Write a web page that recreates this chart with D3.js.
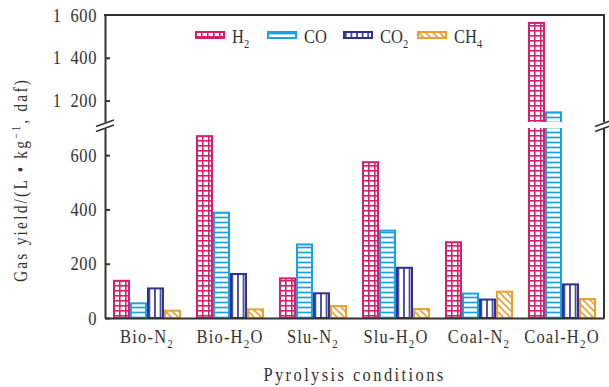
<!DOCTYPE html>
<html><head><meta charset="utf-8">
<script src="https://cdn.jsdelivr.net/npm/d3@7"></script>
<style>
body{margin:0;background:#fff}
svg text{font-family:"Liberation Serif","DejaVu Serif",serif;fill:#333}
</style></head><body>
<svg id="chart" width="609" height="387"></svg>
<script>
// Gas yield by pyrolysis condition, four gases, broken y axis
const categories = ["Bio-N2","Bio-H2O","Slu-N2","Slu-H2O","Coal-N2","Coal-H2O"];
const seriesNames = ["H2","CO","CO2","CH4"];
const h2Values  = [137, 670, 146, 574, 279, 1563];
const coValues  = [54, 388, 271, 322, 90, 1145];
const co2Values = [109, 162, 91, 185, 68, 124];
const ch4Values = [27, 32, 44, 33, 97, 70];
const lowerTicks = [0, 200, 400, 600];
const upperTicks = [1200, 1400, 1600];
const seriesColors = ["#d61f6c", "#1aa1e0", "#2e3192", "#e9a131"];
const yTitle = ["Gas yield/(L \u2022 kg", "\u22121", ", daf)"];
const xTitle = "Pyrolysis conditions";

const allValues = [h2Values, coValues, co2Values, ch4Values];
const rows = categories.map((c, i) => ({cat: c, vals: seriesNames.map((s, j) => ({s, v: allValues[j][i], j}))}));

const svg = d3.select("#chart");
const mLeft = 105, mRight = 604, mTop = 15, mBottom = 318;
const gapTop = 122, gapBot = 128;
const axisColor = "#333";
const TS = 1.15; // vertical stretch of the glyphs

const yLow = d3.scaleLinear().domain([0, 700]).range([mBottom, gapBot]);
const yHigh = d3.scaleLinear().domain([1100, 1600]).range([gapTop, mTop]);
const x0 = d3.scaleBand().domain(categories).range([mLeft, mRight]).paddingInner(0.18).paddingOuter(0.096);
const x1 = d3.scaleBand().domain(seriesNames).range([0, x0.bandwidth()]);

// hatch patterns
const defs = svg.append("defs");
function pat(id, w, h, draw) {
  const p = defs.append("pattern").attr("id", id).attr("patternUnits", "userSpaceOnUse")
    .attr("width", w).attr("height", h);
  p.append("rect").attr("width", w).attr("height", h).attr("fill", "#fff");
  draw(p);
}
pat("p-H2", 6, 5, p => {
  p.append("line").attr("x1", 0.8).attr("x2", 0.8).attr("y1", 0).attr("y2", 5).attr("stroke", seriesColors[0]).attr("stroke-width", 1.6);
  p.append("line").attr("x1", 0).attr("x2", 6).attr("y1", 0.8).attr("y2", 0.8).attr("stroke", seriesColors[0]).attr("stroke-width", 1.6);
});
pat("p-CO", 10, 5, p => {
  p.append("line").attr("x1", 0).attr("x2", 10).attr("y1", 2.5).attr("y2", 2.5).attr("stroke", seriesColors[1]).attr("stroke-width", 1.7);
});
pat("p-CO2", 5.6, 10, p => {
  p.append("line").attr("x1", 2.8).attr("x2", 2.8).attr("y1", 0).attr("y2", 10).attr("stroke", seriesColors[2]).attr("stroke-width", 1.6);
});
pat("p-CH4", 7, 7, p => {
  const c = seriesColors[3];
  p.append("line").attr("x1", 0).attr("y1", 0).attr("x2", 7).attr("y2", 7).attr("stroke", c).attr("stroke-width", 1.6);
  p.append("line").attr("x1", -1).attr("y1", 6).attr("x2", 1).attr("y2", 8).attr("stroke", c).attr("stroke-width", 1.6);
  p.append("line").attr("x1", 6).attr("y1", -1).attr("x2", 8).attr("y2", 1).attr("stroke", c).attr("stroke-width", 1.6);
});

defs.append("clipPath").attr("id", "clipLow").append("rect")
  .attr("x", mLeft).attr("y", yLow.range()[1]).attr("width", mRight - mLeft).attr("height", yLow.range()[0] - yLow.range()[1] + 2);
defs.append("clipPath").attr("id", "clipHigh").append("rect")
  .attr("x", mLeft).attr("y", yHigh.range()[1]).attr("width", mRight - mLeft).attr("height", yHigh.range()[0] - yHigh.range()[1]);

// text with numeric subscripts
function formulaText(g, str, subSize, subDy) {
  const t = g.append("text");
  str.split(/(\d+)/).filter(s => s.length).forEach((part, k, arr) => {
    if (/^\d+$/.test(part)) {
      t.append("tspan").attr("font-size", subSize).attr("dy", subDy).text(part);
    } else {
      const prevSub = k > 0 && /^\d+$/.test(arr[k - 1]);
      t.append("tspan").attr("dy", prevSub ? -subDy : 0).text(part);
    }
  });
  return t;
}

// bars, one layer per axis segment
function barLayer(clipId, scale, base, filterFn) {
  const layer = svg.append("g").attr("clip-path", `url(#${clipId})`);
  const g = layer.selectAll("g").data(rows).join("g")
    .attr("transform", d => `translate(${x0(d.cat)},0)`);
  g.selectAll("rect").data(d => d.vals.filter(filterFn)).join("rect")
    .attr("x", d => x1(d.s) + 1).attr("width", x1.bandwidth() - 2)
    .attr("y", d => scale(d.v)).attr("height", d => scale(base) - scale(d.v))
    .attr("fill", d => `url(#p-${d.s})`).attr("stroke", d => seriesColors[d.j]).attr("stroke-width", 2);
}
barLayer("clipLow", yLow, 0, () => true);
barLayer("clipHigh", yHigh, 1000, e => e.v > yHigh.domain()[0]);

// axes
const fmt = d => d >= 1000 ? `${Math.floor(d / 1000)}\u2002${String(d % 1000).padStart(3, "0")}` : String(d);
function styleAxis(g) {
  g.selectAll("path,line").attr("stroke", axisColor).attr("stroke-width", 2);
  g.selectAll("text").attr("font-size", 16.5).attr("fill", "#333").attr("letter-spacing", 0.6)
    .attr("font-family", '"Liberation Serif", serif').attr("transform", `scale(1,${TS})`);
}
const axLow = svg.append("g").attr("transform", `translate(${mLeft},0)`)
  .call(d3.axisLeft(yLow).tickValues(lowerTicks).tickSizeInner(-5).tickSizeOuter(0).tickPadding(8).tickFormat(fmt));
styleAxis(axLow);
const axHigh = svg.append("g").attr("transform", `translate(${mLeft},0)`)
  .call(d3.axisLeft(yHigh).tickValues(upperTicks).tickSizeInner(-5).tickSizeOuter(0).tickPadding(8).tickFormat(fmt));
styleAxis(axHigh);
axHigh.selectAll(".tick").filter(d => d === 1600).select("line").remove();

const axX = svg.append("g").attr("transform", `translate(0,${mBottom})`)
  .call(d3.axisBottom(x0).tickSize(0).tickFormat(() => ""));
axX.select(".domain").attr("stroke", axisColor).attr("stroke-width", 2);
axX.selectAll(".tick text").remove();
axX.selectAll(".tick").each(function (d) {
  const g = d3.select(this).append("g").attr("transform", `translate(0,25) scale(1,${TS})`);
  formulaText(g, d, 11, 4).attr("text-anchor", "middle").attr("font-size", 16.5).attr("letter-spacing", 1.2);
});

// frame: top and right edges
svg.append("line").attr("x1", mLeft - 1).attr("x2", mRight + 1).attr("y1", mTop).attr("y2", mTop)
  .attr("stroke", axisColor).attr("stroke-width", 2);
svg.append("line").attr("x1", mRight).attr("x2", mRight).attr("y1", mTop).attr("y2", gapTop)
  .attr("stroke", axisColor).attr("stroke-width", 2);
svg.append("line").attr("x1", mRight).attr("x2", mRight).attr("y1", gapBot).attr("y2", mBottom)
  .attr("stroke", axisColor).attr("stroke-width", 2);

// axis break marks
const cy = (gapTop + gapBot) / 2;
[mLeft, mRight].forEach(cx => {
  const g = svg.append("g").attr("transform", `translate(${cx},${cy})`);
  g.append("polygon").attr("points", "-9,1.5 9,-5 9,0 -9,6.5").attr("fill", "#fff");
  g.append("line").attr("x1", -9).attr("y1", 1.5).attr("x2", 9).attr("y2", -5).attr("stroke", axisColor).attr("stroke-width", 1.6);
  g.append("line").attr("x1", -9).attr("y1", 6.5).attr("x2", 9).attr("y2", 0).attr("stroke", axisColor).attr("stroke-width", 1.6);
});

// legend
const legX = [195, 267, 343, 417];
const leg = svg.append("g");
seriesNames.forEach((s, j) => {
  const g = leg.append("g").attr("transform", `translate(${legX[j]},31)`);
  g.append("rect").attr("x", 1).attr("y", 1).attr("width", 28).attr("height", 6)
    .attr("fill", `url(#p-${s})`).attr("stroke", seriesColors[j]).attr("stroke-width", 2);
  const tg = g.append("g").attr("transform", `translate(37,12) scale(1,${TS})`);
  formulaText(tg, s, 10.5, 4).attr("font-size", 16.5);
});

// axis titles
const xt = svg.append("g").attr("transform", `translate(${(mLeft + mRight) / 2},381) scale(1,${TS})`);
xt.append("text").attr("text-anchor", "middle").attr("font-size", 16.5).attr("letter-spacing", 2.4).text(xTitle);

const yt = svg.append("g").attr("transform", `translate(27,180) rotate(-90) scale(1,${TS})`);
const ytt = yt.append("text").attr("text-anchor", "middle").attr("font-size", 15.5).attr("letter-spacing", 2.2);
ytt.append("tspan").text(yTitle[0]);
ytt.append("tspan").attr("font-size", 10).attr("dy", -6).text(yTitle[1]);
ytt.append("tspan").attr("dy", 6).text(yTitle[2]);
</script>
</body></html>
